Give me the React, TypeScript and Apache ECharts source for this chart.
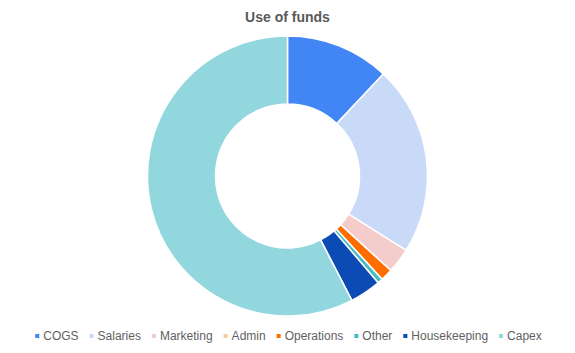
import React, { useEffect, useRef } from "react";
import * as echarts from "echarts";

const categories = ["COGS", "Salaries", "Marketing", "Admin", "Operations", "Other", "Housekeeping", "Capex"];
const values = [12.0, 21.9, 2.9, 0, 1.4, 0.6, 3.6, 57.6];
const colors = ["#4285f4", "#c9daf8", "#f4cccc", "#f9cb9c", "#ff6d01", "#46bdc6", "#0b4bb3", "#93d7de"];

export default function App() {
  const ref = useRef<HTMLDivElement>(null);
  useEffect(() => {
    if (!ref.current) return;
    const chart = echarts.init(ref.current, undefined, { renderer: "svg" });
    chart.setOption({
      animation: false,
      title: {
        text: "Use of funds",
        left: "center",
        top: 5,
        textStyle: { fontFamily: "Liberation Sans, Arial, sans-serif", fontSize: 14, fontWeight: "bold", color: "#595959" },
      },
      legend: {
        bottom: 6,
        left: "center",
        icon: "rect",
        itemWidth: 6,
        itemHeight: 6,
        itemGap: 9,
        textStyle: { fontFamily: "Liberation Sans, Arial, sans-serif", fontSize: 12, color: "#5f5f5f", padding: [0, 0, 0, -2] },
        data: categories,
      },
      series: [
        {
          type: "pie",
          center: [287.5, 176],
          radius: [72, 140],
          startAngle: 90,
          clockwise: true,
          label: { show: false },
          labelLine: { show: false },
          itemStyle: { borderColor: "#ffffff", borderWidth: 1.5 },
          data: categories.map((c, i) => ({ name: c, value: values[i], itemStyle: { color: colors[i] } })),
        },
      ],
    });
    return () => chart.dispose();
  }, []);
  return <div ref={ref} style={{ width: 575, height: 353, margin: -8 }} />;
}
